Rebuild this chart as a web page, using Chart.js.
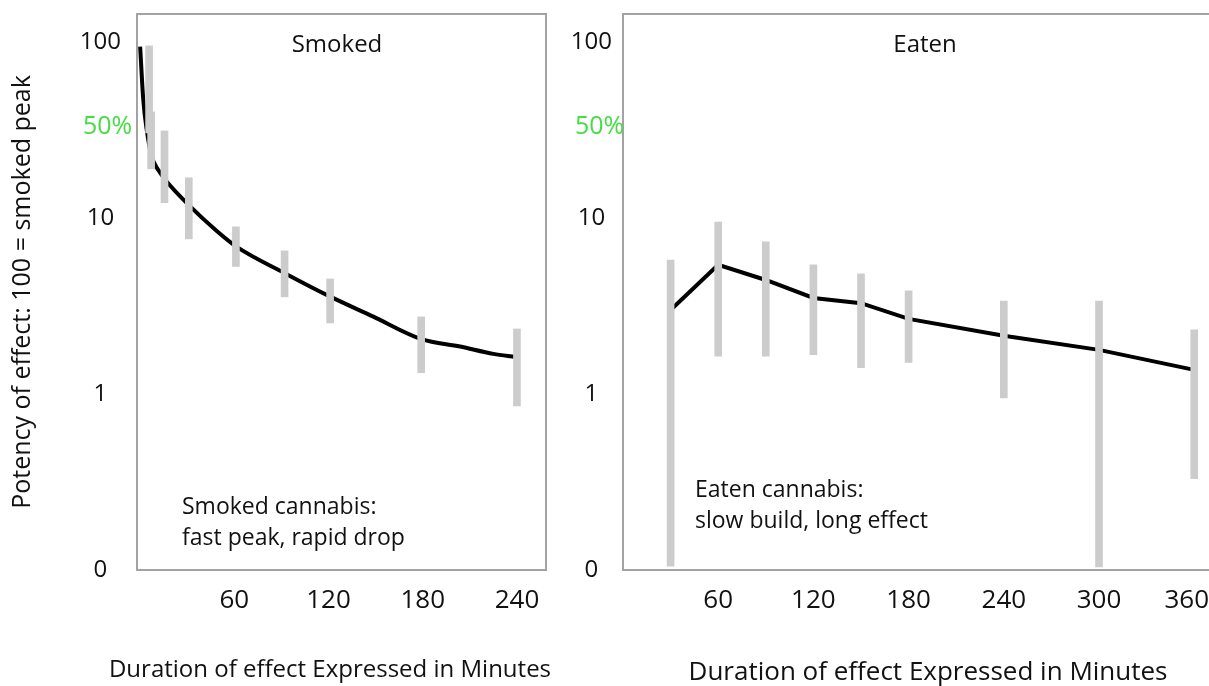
<!DOCTYPE html>
<html>
<head>
<meta charset="utf-8">
<title>Smoked vs eaten cannabis: potency over time</title>
<script src="https://cdn.jsdelivr.net/npm/chart.js@4/dist/chart.umd.min.js"></script>
<style>
  html, body { margin: 0; padding: 0; background: #fff; width: 1209px; height: 686px; overflow: hidden; }
  canvas { position: absolute; top: 0; }
  #smoked { left: 0; }
  #eaten { left: 560px; }
</style>
</head>
<body>
<canvas id="smoked" width="560" height="686"></canvas>
<canvas id="eaten" width="655" height="686"></canvas>
<script>
// Potency of effect on a log scale (100 = smoked peak), by minutes after use.
const smokedLineMinutes = [0, 2, 4.2, 7.4, 11.6, 16.9, 30.7, 48.8, 61.3, 91.8, 121.1, 148.5, 179.1, 203.8, 225, 239];
const smokedLinePotency = [94, 46.8, 31.6, 22.3, 18.7, 16.1, 11.9, 8.43, 6.87, 4.87, 3.57, 2.75, 2.05, 1.86, 1.69, 1.62];
const smokedRangeMinutes = [5.7, 7, 15.5, 31, 61, 92, 121, 179, 240];
const smokedRangeLow = [30.4, 19.0, 12.2, 7.6, 5.3, 3.56, 2.53, 1.32, 0.855];
const smokedRangeHigh = [94.9, 40.0, 31.2, 16.9, 8.9, 6.5, 4.5, 2.74, 2.34];

const eatenMinutes = [30, 60, 90, 120, 150, 180, 240, 300, 360];
const eatenPotency = [3.0, 5.41, 4.44, 3.51, 3.28, 2.67, 2.14, 1.78, 1.37];
const eatenRangeLow = [0.105, 1.64, 1.64, 1.67, 1.41, 1.51, 0.95, 0.104, 0.33];
const eatenRangeHigh = [5.77, 9.48, 7.31, 5.41, 4.81, 3.85, 3.37, 3.37, 2.31];

const smokedMinuteTicks = [60, 120, 180, 240];
const eatenMinuteTicks = [60, 120, 180, 240, 300, 360];
const potencyTicks = [0.1, 1, 10, 100];
const potencyTickLabels = ['0', '1', '10', '100'];

const FONT = "'Open Sans', 'Noto Sans', sans-serif";
const INK = '#111';
Chart.defaults.font.family = FONT;
Chart.defaults.color = INK;

// Frame, panel title, "50%" marker text, note and axis caption.
const panelText = {
  id: 'panelText',
  beforeDatasetsDraw(chart, args, o) {
    const { ctx, chartArea: a } = chart;
    ctx.save();
    ctx.strokeStyle = '#a3a3a3';
    ctx.lineWidth = 2;
    ctx.strokeRect(a.left, a.top, a.right - a.left, a.bottom - a.top);
    ctx.restore();
  },
  afterDraw(chart, args, o) {
    const { ctx } = chart;
    ctx.save();
    ctx.textBaseline = 'middle';
    ctx.fillStyle = INK;
    ctx.textAlign = 'center';
    ctx.font = `24px ${FONT}`;
    ctx.fillText(o.title, o.titleX, o.titleY);

    ctx.fillStyle = '#44dd44';
    ctx.textAlign = 'left';
    ctx.font = `25px ${FONT}`;
    ctx.fillText('50%', o.halfX, o.halfY);

    ctx.fillStyle = INK;
    ctx.font = `23px ${FONT}`;
    o.note.forEach((line, i) => ctx.fillText(line, o.noteX, o.noteY + i * 31));

    ctx.textAlign = 'center';
    ctx.font = `${o.captionSize}px ${FONT}`;
    ctx.fillText('Duration of effect Expressed in Minutes', o.captionX, o.captionY);
    ctx.restore();
  }
};

// Keep the plot frame exactly where the layout padding puts it.
function noEdgePadding(s) {
  s.paddingTop = 0; s.paddingBottom = 0; s.paddingLeft = 0; s.paddingRight = 0;
}

function panel(canvasId, cfg) {
  const rangeData = cfg.rangeMinutes.map((m, i) => ({ x: m, y: [cfg.rangeLow[i], cfg.rangeHigh[i]] }));
  const lineData = cfg.lineMinutes.map((m, i) => ({ x: m, y: cfg.linePotency[i] }));
  const lastTick = cfg.xTicks[cfg.xTicks.length - 1];
  return new Chart(document.getElementById(canvasId), {
    type: 'line',
    data: {
      datasets: [
        {
          type: 'bar',
          data: rangeData,
          backgroundColor: '#cccccc',
          borderWidth: 0,
          barThickness: 7,
          order: 1
        },
        {
          type: 'line',
          data: lineData,
          borderColor: '#000',
          borderWidth: 4,
          pointRadius: 0,
          tension: cfg.tension,
          cubicInterpolationMode: cfg.interp,
          order: 2
        }
      ]
    },
    options: {
      responsive: false,
      animation: false,
      layout: { padding: { top: 14, right: cfg.padRight, left: 0, bottom: 0 } },
      plugins: {
        legend: { display: false },
        tooltip: { enabled: false },
        panelText: cfg.text
      },
      scales: {
        x: {
          type: 'linear',
          min: cfg.xMin,
          max: cfg.xMax,
          offset: false,
          grid: { display: false, drawTicks: false },
          border: { display: false },
          afterBuildTicks: s => { s.ticks = cfg.xTicks.map(v => ({ value: v })); },
          afterFit: s => { s.height = 116; noEdgePadding(s); },
          ticks: {
            padding: 15,
            font: { size: 26 },
            color: INK,
            maxRotation: 0,
            autoSkip: false,
            // a trailing figure space keeps the last label inside the window edge
            callback: v => (cfg.tuckLast && v === lastTick) ? `${v}\u2007` : `${v}`
          }
        },
        y: {
          type: 'logarithmic',
          min: 0.1,
          max: 144,
          grid: { display: false, drawTicks: false },
          border: { display: false },
          afterBuildTicks: s => { s.ticks = potencyTicks.map(v => ({ value: v })); },
          afterFit: s => { s.width = cfg.yWidth; noEdgePadding(s); },
          ticks: {
            padding: cfg.yPad,
            crossAlign: 'center',
            font: { size: 24 },
            color: INK,
            autoSkip: false,
            callback: v => potencyTickLabels[potencyTicks.indexOf(v)]
          },
          title: {
            display: cfg.yTitle,
            text: 'Potency of effect: 100 = smoked peak',
            font: { size: 25 },
            color: INK,
            padding: { top: 8, bottom: 0 }
          }
        }
      }
    },
    plugins: [panelText]
  });
}

panel('smoked', {
  lineMinutes: smokedLineMinutes, linePotency: smokedLinePotency,
  rangeMinutes: smokedRangeMinutes, rangeLow: smokedRangeLow, rangeHigh: smokedRangeHigh,
  xTicks: smokedMinuteTicks, xMin: -2, xMax: 258.5, tuckLast: false,
  tension: 0.4, interp: 'monotone',
  padRight: 14, yWidth: 137, yPad: 16, yTitle: true,
  text: {
    title: 'Smoked', titleX: 337, titleY: 45,
    halfX: 83, halfY: 127,
    note: ['Smoked cannabis:', 'fast peak, rapid drop'], noteX: 182, noteY: 507,
    captionX: 330, captionY: 670, captionSize: 24
  }
});

panel('eaten', {
  lineMinutes: eatenMinutes, linePotency: eatenPotency,
  rangeMinutes: eatenMinutes, rangeLow: eatenRangeLow, rangeHigh: eatenRangeHigh,
  xTicks: eatenMinuteTicks, xMin: 0, xMax: 371.2, tuckLast: true,
  tension: 0, interp: 'default',
  padRight: 3, yWidth: 63, yPad: 11, yTitle: false,
  text: {
    title: 'Eaten', titleX: 365, titleY: 45,
    halfX: 15, halfY: 127,
    note: ['Eaten cannabis:', 'slow build, long effect'], noteX: 135, noteY: 490,
    captionX: 368, captionY: 673, captionSize: 26
  }
});
</script>
</body>
</html>
